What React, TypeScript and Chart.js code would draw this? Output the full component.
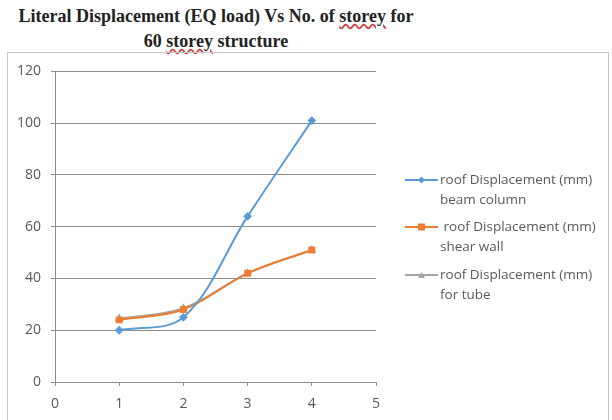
import React, { useEffect, useRef } from "react";
import { Chart, registerables } from "chart.js";

Chart.register(...registerables);

const storeys = [1, 2, 3, 4];
const beamColumn = [20, 25, 64, 101];
const shearWall = [24, 28, 42, 51];
const forTube = [24.5, 28.5, 42, 51];
const seriesNames = [
  ["roof Displacement (mm)", "beam column"],
  [" roof Displacement (mm)", "shear wall"],
  ["roof Displacement (mm)", "for tube"],
];
const seriesColors = ["#5B9BD5", "#ED7D31", "#A5A5A5"];
const seriesMarkers = ["rectRot", "rect", "triangle"];
const yTicks = [0, 20, 40, 60, 80, 100, 120];
const xTicks = [0, 1, 2, 3, 4, 5];

const FONT = "'Open Sans', 'Liberation Sans', sans-serif";

const legendPlugin = {
  id: "sideLegend",
  afterDraw(chart: any) {
    const ctx = chart.ctx;
    const rows = [127, 174, 222];
    ctx.save();
    chart.data.datasets.forEach((ds: any, i: number) => {
      const y = rows[i];
      ctx.strokeStyle = ds.borderColor;
      ctx.lineWidth = 2;
      ctx.beginPath();
      ctx.moveTo(397, y);
      ctx.lineTo(430, y);
      ctx.stroke();
      ctx.fillStyle = ds.borderColor;
      ctx.beginPath();
      if (i === 0) {
        ctx.moveTo(413.5, y - 3.5);
        ctx.lineTo(417, y);
        ctx.lineTo(413.5, y + 3.5);
        ctx.lineTo(410, y);
        ctx.closePath();
      } else if (i === 1) {
        ctx.rect(410, y - 3.5, 7, 7);
      } else {
        ctx.moveTo(413.5, y - 3);
        ctx.lineTo(417, y + 3);
        ctx.lineTo(410, y + 3);
        ctx.closePath();
      }
      ctx.fill();
      ctx.fillStyle = "#595959";
      ctx.font = "13.5px " + FONT;
      ctx.textBaseline = "middle";
      ctx.textAlign = "left";
      seriesNames[i].forEach((t, k) => {
        ctx.fillText(t, 432, y + k * 20);
      });
    });
    ctx.restore();
  },
};

export default function App() {
  const ref = useRef<HTMLCanvasElement | null>(null);
  useEffect(() => {
    if (!ref.current) return;
    const mk = (vals: number[]) => storeys.map((x, i) => ({ x, y: vals[i] }));
    const values = [beamColumn, shearWall, forTube];
    const chart = new Chart(ref.current, {
      type: "line",
      data: {
        datasets: values.map((v, i) => ({
          label: seriesNames[i].join(" "),
          data: mk(v),
          borderColor: seriesColors[i],
          backgroundColor: seriesColors[i],
          pointBackgroundColor: seriesColors[i],
          pointBorderColor: seriesColors[i],
          pointStyle: seriesMarkers[i] as any,
          pointRadius: i === 1 ? 3.5 : 3,
          borderWidth: 2,
          tension: 0.35,
          fill: false,
          order: i === 2 ? 3 : i === 1 ? 2 : 1,
        })),
      },
      options: {
        animation: false,
        responsive: false,
        maintainAspectRatio: false,
        layout: { padding: { top: 16, right: 232, left: 0, bottom: 0 } },
        plugins: {
          legend: { display: false },
          title: { display: false },
          tooltip: { enabled: false },
        },
        scales: {
          x: {
            type: "linear",
            min: 0,
            max: 5,
            afterBuildTicks: (s: any) => {
              s.ticks = xTicks.map((v) => ({ value: v }));
            },
            afterFit: (s: any) => {
              s.height = 38;
            },
            grid: {
              drawOnChartArea: false,
              drawTicks: true,
              tickLength: 4,
              color: "#8c8c8c",
            },
            border: { color: "#8c8c8c", width: 1 },
            ticks: {
              color: "#595959",
              font: { family: FONT, size: 14 },
              padding: 10,
              maxRotation: 0,
            },
          },
          y: {
            min: 0,
            max: 120,
            afterBuildTicks: (s: any) => {
              s.ticks = yTicks.map((v) => ({ value: v }));
            },
            afterFit: (s: any) => {
              s.width = 47;
            },
            grid: { color: "#8c8c8c", tickLength: 4, lineWidth: 1 },
            border: { color: "#8c8c8c", width: 1 },
            ticks: {
              color: "#595959",
              font: { family: FONT, size: 14 },
              padding: 10,
            },
          },
        },
      },
      plugins: [legendPlugin],
    });
    return () => chart.destroy();
  }, []);

  return (
    <div
      style={{
        position: "absolute",
        left: 0,
        top: 0,
        width: 612,
        height: 420,
        background: "#fff",
        overflow: "hidden",
      }}
    >
      <div
        style={{
          position: "absolute",
          left: 0,
          top: 4,
          width: 432,
          textAlign: "center",
          fontFamily: "'Liberation Serif', 'Times New Roman', serif",
          fontWeight: "bold",
          fontSize: 18,
          lineHeight: "25px",
          color: "#222",
          whiteSpace: "nowrap",
        }}
      >
        Literal Displacement (EQ load) Vs No. of{" "}
        <span style={{ textDecoration: "underline wavy #d04040" }}>storey</span> for
        <br />
        60 <span style={{ textDecoration: "underline wavy #d04040" }}>storey</span> structure
      </div>
      <div
        style={{
          position: "absolute",
          left: 7,
          top: 52,
          width: 600,
          height: 380,
          border: "1px solid #c8c8c8",
        }}
      >
        <canvas
          ref={ref}
          width={600}
          height={367}
          style={{ position: "absolute", left: 0, top: 0, width: 600, height: 367 }}
        />
      </div>
    </div>
  );
}
